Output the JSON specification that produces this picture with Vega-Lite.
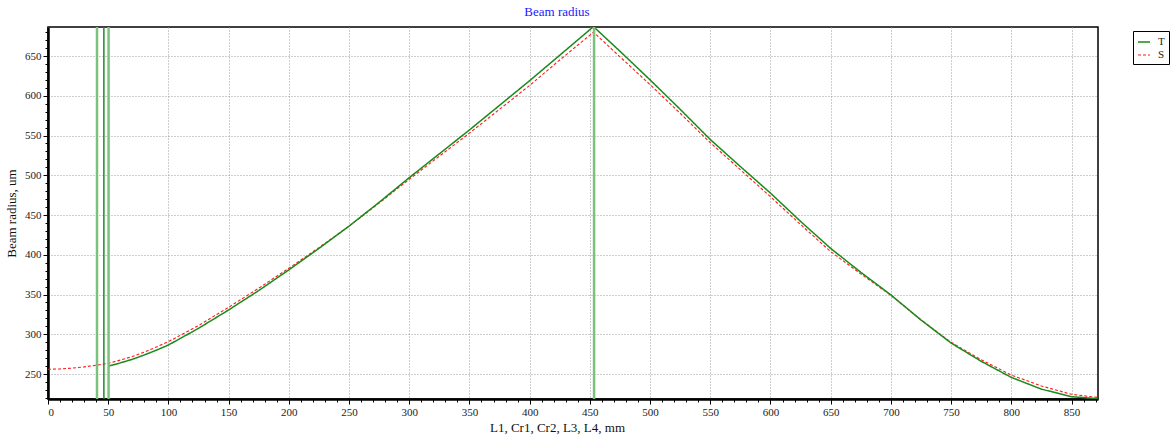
{
  "$schema": "https://vega.github.io/schema/vega-lite/v6.json",
  "autosize": {"type": "none"},
  "width": 1050,
  "height": 372,
  "padding": {"left": 48, "top": 27, "right": 78, "bottom": 37},
  "background": "white",
  "title": {"text": "Beam radius", "color": "#1a1aff", "font": "Liberation Serif", "fontSize": 13, "fontWeight": "normal", "anchor": "middle", "dx": -16, "offset": 7},
  "config": {
    "view": {"stroke": "#000000", "strokeWidth": 1.5},
    "axis": {"labelFont": "Liberation Serif", "titleFont": "Liberation Serif", "labelFontSize": 11, "titleFontSize": 13, "titleFontWeight": "normal", "labelColor": "#222", "titleColor": "#111"}
  },
  "datasets": {
    "beam": [
      {"x": 0, "r": 256, "s": "S"}, {"x": 10, "r": 256.4, "s": "S"}, {"x": 20, "r": 257.4, "s": "S"}, {"x": 30, "r": 259, "s": "S"}, {"x": 40, "r": 261, "s": "S"}, {"x": 50, "r": 263.5, "s": "S"}, {"x": 60, "r": 267.5, "s": "S"}, {"x": 70, "r": 272, "s": "S"}, {"x": 80, "r": 277.5, "s": "S"}, {"x": 90, "r": 284, "s": "S"}, {"x": 100, "r": 290.7, "s": "S"}, {"x": 125, "r": 311, "s": "S"}, {"x": 150, "r": 334, "s": "S"}, {"x": 175, "r": 358, "s": "S"}, {"x": 200, "r": 383, "s": "S"}, {"x": 225, "r": 409, "s": "S"}, {"x": 250, "r": 436, "s": "S"}, {"x": 275, "r": 465, "s": "S"}, {"x": 300, "r": 495, "s": "S"}, {"x": 325, "r": 524, "s": "S"}, {"x": 350, "r": 553, "s": "S"}, {"x": 375, "r": 583, "s": "S"}, {"x": 400, "r": 613, "s": "S"}, {"x": 425, "r": 645, "s": "S"}, {"x": 453, "r": 680, "s": "S"}, {"x": 475, "r": 649, "s": "S"}, {"x": 500, "r": 614, "s": "S"}, {"x": 525, "r": 578, "s": "S"}, {"x": 550, "r": 541, "s": "S"}, {"x": 575, "r": 507, "s": "S"}, {"x": 600, "r": 473, "s": "S"}, {"x": 625, "r": 438, "s": "S"}, {"x": 650, "r": 404, "s": "S"}, {"x": 675, "r": 376, "s": "S"}, {"x": 700, "r": 349, "s": "S"}, {"x": 725, "r": 318, "s": "S"}, {"x": 750, "r": 290, "s": "S"}, {"x": 775, "r": 268, "s": "S"}, {"x": 800, "r": 248.7, "s": "S"}, {"x": 825, "r": 235, "s": "S"}, {"x": 850, "r": 224.5, "s": "S"}, {"x": 872, "r": 220.5, "s": "S"},
      {"x": 50.5, "r": 260, "s": "T"}, {"x": 60, "r": 264, "s": "T"}, {"x": 70, "r": 268.5, "s": "T"}, {"x": 80, "r": 274, "s": "T"}, {"x": 90, "r": 280, "s": "T"}, {"x": 100, "r": 286.5, "s": "T"}, {"x": 125, "r": 307.5, "s": "T"}, {"x": 150, "r": 330.6, "s": "T"}, {"x": 175, "r": 355, "s": "T"}, {"x": 200, "r": 381, "s": "T"}, {"x": 225, "r": 408, "s": "T"}, {"x": 250, "r": 436, "s": "T"}, {"x": 275, "r": 466, "s": "T"}, {"x": 300, "r": 497, "s": "T"}, {"x": 325, "r": 527, "s": "T"}, {"x": 350, "r": 557, "s": "T"}, {"x": 375, "r": 588, "s": "T"}, {"x": 400, "r": 619, "s": "T"}, {"x": 425, "r": 651, "s": "T"}, {"x": 453, "r": 687, "s": "T"}, {"x": 475, "r": 656, "s": "T"}, {"x": 500, "r": 620, "s": "T"}, {"x": 525, "r": 583, "s": "T"}, {"x": 550, "r": 545, "s": "T"}, {"x": 575, "r": 511, "s": "T"}, {"x": 600, "r": 477.6, "s": "T"}, {"x": 625, "r": 442, "s": "T"}, {"x": 650, "r": 408, "s": "T"}, {"x": 675, "r": 378, "s": "T"}, {"x": 700, "r": 349.5, "s": "T"}, {"x": 725, "r": 318, "s": "T"}, {"x": 750, "r": 289, "s": "T"}, {"x": 775, "r": 266, "s": "T"}, {"x": 800, "r": 245.8, "s": "T"}, {"x": 825, "r": 231, "s": "T"}, {"x": 850, "r": 221.5, "s": "T"}, {"x": 872, "r": 219, "s": "T"}
    ],
    "outer": [{"x": 40.7}, {"x": 50.3}, {"x": 453.5}],
    "inner": [{"x": 46.4}]
  },
  "encoding": {
    "x": {
      "field": "x", "type": "quantitative",
      "scale": {"domain": [0, 872], "nice": false, "zero": false},
      "axis": {
        "title": "L1, Cr1, Cr2, L3, L4, mm",
        "titleX": 509, "titlePadding": 4,
        "values": [0,10,20,30,40,50,60,70,80,90,100,110,120,130,140,150,160,170,180,190,200,210,220,230,240,250,260,270,280,290,300,310,320,330,340,350,360,370,380,390,400,410,420,430,440,450,460,470,480,490,500,510,520,530,540,550,560,570,580,590,600,610,620,630,640,650,660,670,680,690,700,710,720,730,740,750,760,770,780,790,800,810,820,830,840,850,860,870],
        "labelExpr": "datum.value % 50 === 0 ? datum.label : ''",
        "labelOverlap": false, "labelBound": false, "labelPadding": 2,
        "tickSize": {"condition": {"test": "datum.value % 50 === 0", "value": 5}, "value": 3},
        "tickColor": "#000", "domainColor": "#000", "domainWidth": 2.5,
        "grid": true, "gridColor": "#9a9a9a", "gridDash": [1, 2],
        "gridOpacity": {"condition": {"test": "datum.value % 50 === 0", "value": 1}, "value": 0}
      }
    }
  },
  "layer": [
    {
      "data": {"name": "beam"},
      "mark": {"type": "line", "clip": true},
      "encoding": {
        "y": {
          "field": "r", "type": "quantitative",
          "scale": {"domain": [218.6, 686.5], "nice": false, "zero": false},
          "axis": {
            "title": "Beam radius, um", "titlePadding": 6,
            "values": [220,230,240,250,260,270,280,290,300,310,320,330,340,350,360,370,380,390,400,410,420,430,440,450,460,470,480,490,500,510,520,530,540,550,560,570,580,590,600,610,620,630,640,650,660,670,680],
            "labelExpr": "datum.value % 50 === 0 ? datum.label : ''",
            "labelOverlap": false, "labelBound": false, "labelPadding": 2,
            "tickSize": {"condition": {"test": "datum.value % 50 === 0", "value": 5}, "value": 3},
            "tickColor": "#000", "domainColor": "#000", "domainWidth": 2.5,
            "grid": true, "gridColor": "#9a9a9a", "gridDash": [1, 2],
            "gridOpacity": {"condition": {"test": "datum.value % 50 === 0", "value": 1}, "value": 0}
          }
        },
        "color": {
          "field": "s", "type": "nominal",
          "scale": {"domain": ["T", "S"], "range": ["#1a8a1a", "#ff1a1a"]},
          "legend": {
            "title": null, "orient": "none", "legendX": 1085, "legendY": 4,
            "symbolType": "stroke", "symbolSize": 144, "symbolStrokeWidth": 1.1,
            "labelFont": "Liberation Serif", "labelFontSize": 11, "labelColor": "#222",
            "padding": 4, "rowPadding": 1, "labelOffset": 7,
            "strokeColor": "#000", "fillColor": "white"
          }
        },
        "strokeDash": {
          "field": "s", "type": "nominal",
          "scale": {"domain": ["T", "S"], "range": [[1, 0], [3, 2]]},
          "legend": null
        },
        "strokeWidth": {
          "field": "s", "type": "nominal",
          "scale": {"domain": ["T", "S"], "range": [1.5, 1.1]},
          "legend": null
        },
        "order": {"field": "x", "type": "quantitative"}
      }
    },
    {
      "data": {"name": "outer"},
      "mark": {"type": "rule", "color": "#7cc27c", "strokeWidth": 2.5},
      "encoding": {}
    },
    {
      "data": {"name": "inner"},
      "mark": {"type": "rule", "color": "#1f8a1f", "strokeWidth": 1.5},
      "encoding": {}
    }
  ]
}
